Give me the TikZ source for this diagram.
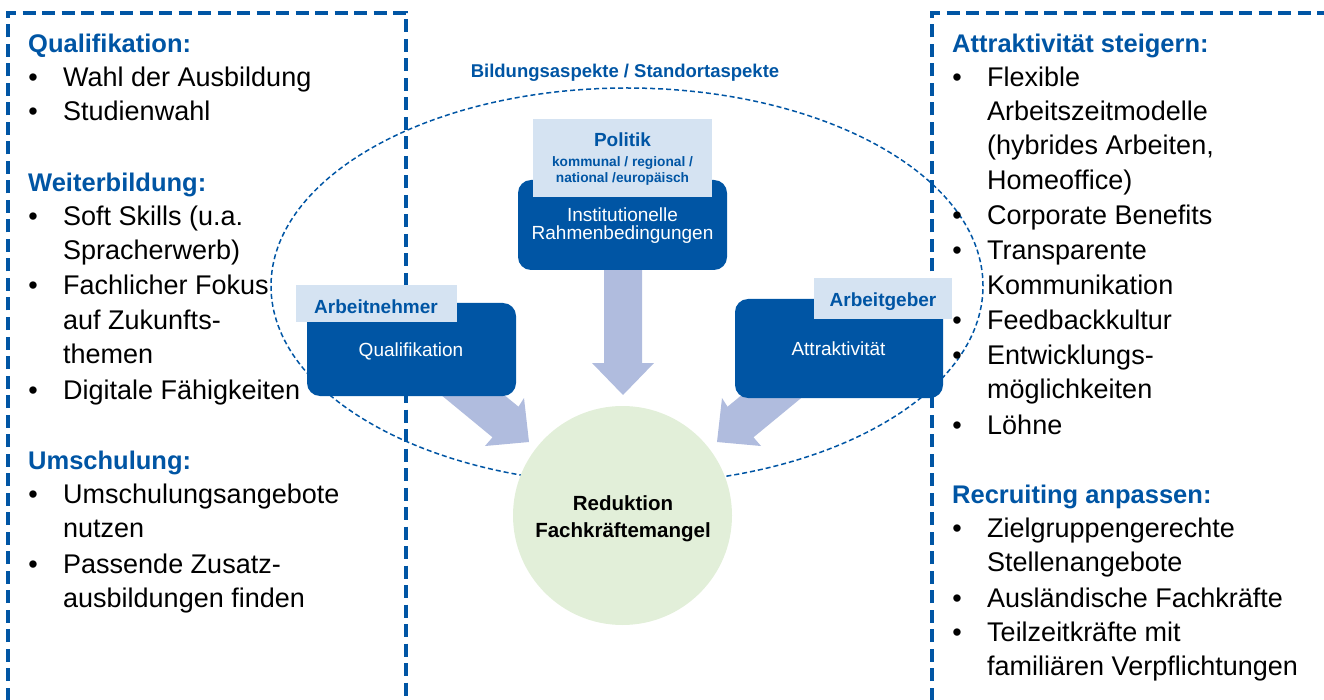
\documentclass[tikz,border=0pt]{standalone}
\usepackage{fontspec}
\setmainfont{Liberation Sans}
\definecolor{fblue}{HTML}{0055A4}
\definecolor{lblue}{HTML}{D5E3F2}
\definecolor{arrfill}{HTML}{B0BCDE}
\definecolor{cgreen}{HTML}{E2EFD9}
\begin{document}
\begin{tikzpicture}[x=1pt,y=-1pt,
  body/.style={anchor=base west, inner sep=0pt, font=\fontsize{27}{32}\selectfont},
  bul/.style={anchor=base, inner sep=0pt, font=\fontsize{27}{32}\selectfont},
  head/.style={anchor=base west, inner sep=0pt, text=fblue, font=\fontsize{25.5}{30}\selectfont\bfseries},
  frame/.style={draw=fblue, line width=3.5pt, dash pattern=on 13pt off 6.5pt},
  ell/.style={draw=fblue, line width=1.5pt, dash pattern=on 5pt off 3pt},
  darkbox/.style={fill=fblue, rounded corners=13pt, inner sep=0pt},
  lightbox/.style={fill=lblue, inner sep=0pt},
  wtxt/.style={anchor=base, inner sep=0pt, text=white, font=\fontsize{19}{22}\selectfont},
  btxt/.style={anchor=base, inner sep=0pt, text=fblue, font=\fontsize{19}{22}\selectfont\bfseries},
  blockarrow/.style={fill=arrfill, draw=none}
]
\useasboundingbox (0,0) rectangle (1324,700);
\clip (0,0) rectangle (1324,700);

% frames
\coordinate (lfa) at (8,720);
\coordinate (lfb) at (8,13);
\coordinate (lfc) at (406,13);
\coordinate (lfd) at (406,720);
\draw[frame] (lfa) -- (lfb) -- (lfc) -- (lfd);
\coordinate (rfa) at (932,720);
\coordinate (rfb) at (932,13);
\coordinate (rfc) at (1340,13);
\draw[frame] (rfa) -- (rfb) -- (rfc);

% ellipse
\coordinate (ec) at (627,286);
\draw[ell] (ec) ellipse [x radius=356pt, y radius=198pt];
\node[anchor=base, inner sep=0pt, text=fblue, font=\fontsize{18.5}{22}\selectfont\bfseries] (elab) at (625,78) {Bildungsaspekte / Standortaspekte};

% left list
\node[head] (lh1) at (28,53) {Qualifikation:};
\node[bul] (lb1) at (33,87) {•};
\node[body] (lt1) at (63,87) {Wahl der Ausbildung};
\node[bul] (lb2) at (33,121) {•};
\node[body] (lt2) at (63,121) {Studienwahl};
\node[head] (lh2) at (28,192) {Weiterbildung:};
\node[bul] (lb3) at (33,226) {•};
\node[body] (lt3) at (63,226) {Soft Skills (u.a.};
\node[body] (lt3b) at (63,260) {Spracherwerb)};
\node[bul] (lb4) at (33,295) {•};
\node[body] (lt4) at (63,295) {Fachlicher Fokus};
\node[body] (lt4b) at (63,329) {auf Zukunfts-};
\node[body] (lt4c) at (63,363) {themen};
\node[bul] (lb5) at (33,399) {•};
\node[body] (lt5) at (63,399) {Digitale Fähigkeiten};
\node[head] (lh3) at (28,469) {Umschulung:};
\node[bul] (lb6) at (33,503) {•};
\node[body] (lt6) at (63,503) {Umschulungsangebote};
\node[body] (lt6b) at (63,537) {nutzen};
\node[bul] (lb7) at (33,573) {•};
\node[body] (lt7) at (63,573) {Passende Zusatz-};
\node[body] (lt7b) at (63,607) {ausbildungen finden};

% right list
\node[head] (rh1) at (952,53) {Attraktivität steigern:};
\node[bul] (rb1) at (957,87) {•};
\node[body] (rt1) at (987,87) {Flexible};
\node[body] (rt1b) at (987,121) {Arbeitszeitmodelle};
\node[body] (rt1c) at (987,155) {(hybrides Arbeiten,};
\node[body] (rt1d) at (987,190) {Homeoffice)};
\node[bul] (rb2) at (957,225) {•};
\node[body] (rt2) at (987,225) {Corporate Benefits};
\node[bul] (rb3) at (957,260) {•};
\node[body] (rt3) at (987,260) {Transparente};
\node[body] (rt3b) at (987,295) {Kommunikation};
\node[bul] (rb4) at (957,330) {•};
\node[body] (rt4) at (987,330) {Feedbackkultur};
\node[bul] (rb5) at (957,364) {•};
\node[body] (rt5) at (987,364) {Entwicklungs-};
\node[body] (rt5b) at (987,398) {möglichkeiten};
\node[bul] (rb6) at (957,434) {•};
\node[body] (rt6) at (987,434) {Löhne};
\node[head] (rh2) at (952,503) {Recruiting anpassen:};
\node[bul] (rb7) at (957,537) {•};
\node[body] (rt7) at (987,537) {Zielgruppengerechte};
\node[body] (rt7b) at (987,571) {Stellenangebote};
\node[bul] (rb8) at (957,607) {•};
\node[body] (rt8) at (987,607) {Ausländische Fachkräfte};
\node[bul] (rb9) at (957,641) {•};
\node[body] (rt9) at (987,641) {Teilzeitkräfte mit};
\node[body] (rt9b) at (987,675) {familiären Verpflichtungen};

% block arrows
\fill[blockarrow] (604,265) -- (642,265) -- (642,363) -- (654,363) -- (623,395) -- (592,363) -- (604,363) -- cycle;
\fill[blockarrow] (429,385) -- (492,385) -- (518.5,406.7) -- (524,398) -- (529,442) -- (485,446) -- (492.5,437.3) -- cycle;
\fill[blockarrow] (817,385) -- (754,385) -- (727.5,406.7) -- (722,398) -- (717,442) -- (761,446) -- (753.5,437.3) -- cycle;

% goal circle
\node[circle, fill=cgreen, minimum size=219pt, inner sep=0pt] (goal) at (622.5,515.5) {};
\node[anchor=base, inner sep=0pt, font=\fontsize{20.5}{24}\selectfont\bfseries] (g1) at (623,510) {Reduktion};
\node[anchor=base, inner sep=0pt, font=\fontsize{20.5}{24}\selectfont\bfseries] (g2) at (623,537) {Fachkräftemangel};

% institutional
\node[darkbox, minimum width=209pt, minimum height=90pt] (inst) at (622.5,225) {};
\node[lightbox, minimum width=179pt, minimum height=78pt] (pol) at (622.5,158) {};
\node[btxt] (pol1) at (622.5,147) {Politik};
\node[anchor=base, inner sep=0pt, text=fblue, font=\fontsize{13.7}{16}\selectfont\bfseries] (pol2) at (622.5,167) {kommunal / regional /};
\node[anchor=base, inner sep=0pt, text=fblue, font=\fontsize{13.7}{16}\selectfont\bfseries] (pol3) at (622.5,183) {national /europäisch};
\node[wtxt] (inst1) at (622.5,222) {Institutionelle};
\node[wtxt] (inst2) at (622.5,240) {Rahmenbedingungen};

% Arbeitnehmer
\node[darkbox, minimum width=209pt, minimum height=93pt] (qual) at (411.5,349.5) {};
\node[lightbox, minimum width=161pt, minimum height=37pt] (an) at (376.5,303.5) {};
\node[btxt] (an1) at (376,313) {Arbeitnehmer};
\node[wtxt] (qual1) at (411,356) {Qualifikation};

% Arbeitgeber
\node[darkbox, minimum width=208pt, minimum height=99pt] (attr) at (839,348.5) {};
\node[lightbox, minimum width=138pt, minimum height=41pt] (ag) at (883,298.5) {};
\node[btxt] (ag1) at (883,307) {Arbeitgeber};
\node[wtxt] (attr1) at (838.5,355) {Attraktivität};
\end{tikzpicture}
\end{document}
